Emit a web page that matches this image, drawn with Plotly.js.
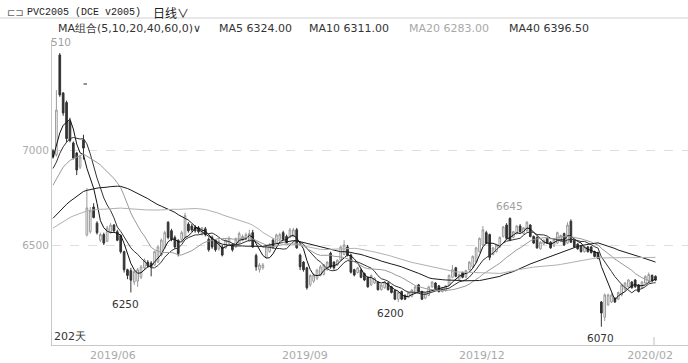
<!DOCTYPE html>
<html><head><meta charset="utf-8">
<script src="https://cdn.plot.ly/plotly-3.0.1.min.js"></script>
<style>html,body{margin:0;padding:0;background:#fff}#c{width:688px;height:363px}</style>
</head><body><div id="c"></div>
<script>
// ---- data ----
const open = [6995,6975,7500,7300,7250,7150,7037,6984,6910,7053,
6553,6570,6700,6615,6525,6555,6520,6570,6605,6570,
6550,6465,6370,6365,6305,6310,6330,6380,6410,6405,
6395,6410,6447,6485,6620,6575,6540,6525,6530,6540,
6610,6600,6595,6590,6560,6585,6530,6540,6525,6480,
6490,6485,6510,6500,6490,6510,6525,6530,6520,6565,
6445,6370,6380,6435,6465,6525,6510,6530,6565,6545,
6540,6545,6580,6447,6410,6380,6290,6310,6325,6340,
6345,6370,6457,6410,6395,6420,6450,6490,6447,6370,
6355,6368,6350,6330,6290,6300,6305,6265,6275,6300,
6280,6260,6215,6255,6235,6225,6230,6250,6290,6255,
6220,6235,6280,6300,6285,6255,6260,6290,6330,6380,
6320,6355,6330,6370,6385,6410,6465,6500,6565,6555,
6450,6465,6490,6545,6605,6640,6540,6560,6600,6560,
6575,6605,6545,6540,6480,6505,6535,6515,6495,6510,
6520,6560,6510,6625,6525,6505,6495,6465,6490,6490,
6465,6460,6200,6120,6185,6200,6220,6215,6237,6265,
6280,6305,6316,6290,6275,6300,6310,6340,6335];
const high = [7005,7315,7510,7305,7260,7170,7045,6990,6975,7080,
6800,6700,6720,6625,6565,6565,6600,6615,6610,6580,
6555,6470,6375,6380,6370,6380,6395,6430,6420,6415,
6470,6500,6535,6575,6625,6585,6550,6530,6575,6670,
6620,6610,6605,6600,6595,6595,6540,6550,6530,6530,
6500,6530,6545,6510,6540,6570,6555,6565,6580,6580,
6455,6405,6405,6500,6510,6535,6560,6565,6575,6555,
6590,6590,6590,6455,6415,6385,6345,6350,6375,6395,
6400,6415,6465,6415,6425,6495,6525,6500,6455,6375,
6385,6375,6355,6335,6345,6330,6310,6295,6310,6305,
6285,6265,6255,6260,6240,6255,6268,6285,6295,6260,
6250,6285,6310,6305,6290,6280,6290,6345,6395,6385,
6350,6360,6370,6415,6445,6490,6540,6600,6575,6560,
6490,6505,6545,6600,6615,6645,6575,6605,6610,6595,
6625,6610,6550,6545,6520,6530,6540,6520,6535,6570,
6555,6565,6620,6635,6530,6510,6500,6495,6495,6495,
6470,6465,6205,6245,6245,6245,6225,6255,6295,6305,
6320,6310,6320,6295,6310,6340,6355,6345,6340];
const low = [6955,6965,7280,7180,7040,7040,6950,6868,6900,6950,
6545,6560,6640,6555,6515,6500,6515,6560,6565,6520,
6455,6355,6320,6250,6290,6280,6320,6370,6380,6335,
6390,6405,6440,6480,6530,6520,6480,6440,6520,6535,
6565,6570,6565,6560,6550,6545,6465,6480,6465,6470,
6440,6480,6505,6465,6485,6505,6520,6525,6515,6485,
6365,6355,6370,6430,6460,6480,6505,6525,6525,6505,
6535,6540,6480,6368,6360,6265,6280,6300,6315,6335,
6340,6365,6375,6370,6390,6415,6445,6440,6350,6335,
6350,6325,6310,6275,6285,6295,6260,6260,6270,6260,
6245,6210,6200,6210,6210,6220,6225,6245,6250,6210,
6215,6230,6275,6265,6250,6250,6255,6285,6325,6330,
6315,6325,6325,6365,6380,6405,6460,6495,6505,6420,
6445,6460,6485,6540,6530,6520,6535,6555,6565,6555,
6570,6540,6505,6480,6475,6500,6505,6480,6490,6505,
6515,6495,6505,6510,6485,6475,6460,6460,6460,6455,
6435,6425,6070,6100,6180,6195,6195,6210,6230,6260,
6275,6270,6275,6250,6270,6295,6305,6305,6310];
const close = [6965,7210,7290,7195,7060,7050,6958,6895,6963,7010,
6695,6680,6645,6565,6555,6510,6590,6605,6575,6525,
6465,6370,6340,6315,6360,6370,6385,6420,6390,6385,
6465,6490,6526,6565,6540,6530,6490,6455,6565,6655,
6575,6580,6575,6570,6590,6555,6475,6490,6475,6520,
6447,6525,6535,6475,6530,6560,6545,6555,6560,6490,
6385,6395,6395,6490,6500,6490,6553,6555,6530,6510,
6580,6580,6485,6385,6370,6275,6340,6342,6368,6385,
6395,6410,6384,6380,6420,6490,6500,6447,6357,6342,
6380,6330,6316,6280,6340,6325,6265,6290,6305,6265,
6250,6215,6250,6215,6215,6250,6263,6280,6255,6215,
6245,6280,6305,6270,6255,6275,6285,6340,6370,6335,
6345,6330,6365,6410,6440,6485,6535,6580,6510,6435,
6485,6500,6540,6595,6535,6525,6570,6600,6570,6590,
6620,6545,6510,6485,6515,6525,6510,6485,6530,6565,
6550,6500,6605,6515,6490,6480,6465,6490,6465,6460,
6440,6430,6142,6237,6237,6237,6200,6250,6290,6300,
6316,6275,6280,6255,6305,6335,6345,6310,6315];
// closes before the first visible bar (estimated from where the MA lines start)
const priorClose = [6520,6505,6490,6470,6480,6460,6475,6495,6510,6500,
6480,6465,6470,6490,6500,6485,6470,6480,6490,6475,
6460,6450,6440,6455,6445,6430,6420,6435,6450,6460,
6470,6465,6480,6475,6490,6485,6500,6495,6510,6505,
6560,6600,6640,6690,6720,6750,6770,6800,6830,6910,
6880,6830,6850,6820,6855,6900,6950,6990,6990];
const maPeriods = [5, 10, 20, 40, 60];
const maNames = ["MA5", "MA10", "MA20", "MA40", "MA60"];
const monthLabels = ["2019/06", "2019/09", "2019/12", "2020/02"];
const monthPos = [17.7, 74.4, 126.7, 176.4];
const yTicks = [6500, 7000];
// extreme labels: [bar index, value, text]
const extremes = [[2, 7510, "510"], [23, 6250, "6250"], [102, 6200, "6200"], [135, 6645, "6645"], [162, 6070, "6070"]];
const labelShift = {"510": 1, "6250": -5, "6200": -8, "6645": 0, "6070": -1};

// ---- build ----
const idx = close.map((_, i) => i);
const all = priorClose.concat(close);
const off = priorClose.length;
function ma(n) {
  return close.map((_, i) => {
    let s = 0;
    for (let k = 0; k < n; k++) s += all[off + i - k];
    return s / n;
  });
}
const maColors = ["#111", "#333", "#9a9a9a", "#1a1a1a", "#b0b0b0"];

const traces = [{
  type: "candlestick", x: idx, open: open, high: high, low: low, close: close,
  increasing: {line: {color: "#9a9a9a", width: 1}, fillcolor: "#ffffff"},
  decreasing: {line: {color: "#333333", width: 1}, fillcolor: "#333333"},
  whiskerwidth: 0, hoverinfo: "skip", showlegend: false
}];
maPeriods.forEach((p, j) => traces.push({
  type: "scatter", mode: "lines", x: idx, y: ma(p), name: maNames[j],
  line: {color: maColors[j], width: 1}, hoverinfo: "skip", showlegend: false
}));

const L = 52, T = 40, W = 636, H = 305;
const PX = x => (x - L) / W, PY = y => (T + H - y) / H;
const dark = "#333", grey = "#a0a0a0";
const f = (s, c, fam) => ({size: s, color: c, family: fam || "DejaVu Sans, sans-serif"});

const annotations = [];
extremes.forEach(e => {
  const top = e[2] === "510" || e[2] === "6645";
  annotations.push({
    x: e[0], y: e[1], xref: "x", yref: "y", text: e[2], showarrow: false,
    yanchor: top ? "bottom" : "top", yshift: top ? 3 : -3, xshift: labelShift[e[2]],
    font: f(10.5, top ? grey : dark)
  });
});
const hdr = [
  [5, 12, "⊏⊐", f(10, "#666")],
  [25, 12, "PVC2005 (DCE v2005)", f(10, "#222", "Liberation Mono, monospace")],
  [151, 12, "日线∨", f(12, "#222", "Noto Sans CJK SC, sans-serif")],
  [56, 28, "MA组合(5,10,20,40,60,0)∨", f(11, dark)],
  [217, 28, "MA5 6324.00", f(11, dark)],
  [307, 28, "MA10 6311.00", f(11, dark)],
  [407, 28, "MA20 6283.00", f(11, "#a8a8a8")],
  [507, 28, "MA40 6396.50", f(11, dark)],
  [52, 336, "202天", f(11, dark)]
];
hdr.forEach(h => annotations.push({
  x: PX(h[0]), y: PY(h[1]), xref: "paper", yref: "paper", text: h[2], showarrow: false,
  xanchor: "left", yanchor: "middle", font: h[3]
}));

const shapes = [
  {type: "line", xref: "paper", yref: "paper", x0: PX(0), x1: 1, y0: PY(18), y1: PY(18), line: {color: "#d0d0d0", width: 1}},
  {type: "line", xref: "paper", yref: "paper", x0: PX(654), x1: PX(654), y0: 0, y1: PY(337), line: {color: "#c0c0c0", width: 1}},
  {type: "line", xref: "paper", yref: "paper", x0: PX(83.5), x1: PX(87), y0: PY(84), y1: PY(84), line: {color: "#222", width: 1}}
];

const layout = {
  width: 688, height: 363,
  margin: {l: L, r: 0, t: T, b: 363 - T - H, pad: 0},
  paper_bgcolor: "#fff", plot_bgcolor: "#fff",
  showlegend: false, hovermode: false,
  xaxis: {
    type: "linear", range: [-0.3, 187.6], showgrid: false, zeroline: false,
    rangeslider: {visible: false},
    showline: true, linecolor: "#c8c8c8", linewidth: 1,
    tickmode: "array", tickvals: monthPos, ticktext: monthLabels, ticks: "",
    tickfont: f(11, "#aaaaaa")
  },
  yaxis: {
    range: [5973.7, 7578.9], zeroline: false,
    showline: true, linecolor: "#c8c8c8", linewidth: 1,
    showgrid: true, gridcolor: "#dedede", griddash: "dash", gridwidth: 1,
    tickmode: "array", tickvals: yTicks, ticktext: yTicks.map(String), ticks: "",
    tickfont: f(10.5, "#aaaaaa")
  },
  annotations: annotations, shapes: shapes
};
Plotly.newPlot("c", traces, layout, {staticPlot: true, displayModeBar: false});
</script></body></html>
